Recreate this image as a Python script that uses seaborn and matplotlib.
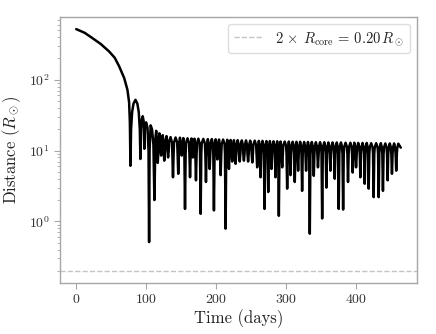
import matplotlib
matplotlib.use("Agg")
import matplotlib.pyplot as plt
import seaborn as sns
import pandas as pd

# ---- data ----
# initial plunge and first few wide orbits
early_time = [
    0, 12, 23.3, 35, 47, 55, 61.4, 68.6, 73.3, 75.7, 76.8, 77.6,
    78.5, 80, 82, 84.8, 87.5, 89.5, 91, 91.9,
    92.7, 94, 95.2, 96.5, 97.5,
    98.3, 100, 102, 103.5, 104.3,
    105, 106.5, 108.5, 110.5, 111.9,
    113.4, 114.5,
]
early_distance = [
    518, 460, 386, 320, 251, 205, 155, 106, 72, 48, 25, 6.1,
    20, 35, 46, 52, 46, 35, 20, 7.6,
    20, 28, 30.5, 26, 10.6,
    20, 25, 21, 10, 0.51,
    10, 22.7, 20, 12, 2.0,
    15, 19,
]
# settled orbits, six readings per orbit:
# upper shoulder, lower shoulder, pericentre, lower shoulder, upper shoulder, apocentre
orbit_time = [
    115.2, 115.8, 116.7, 117.6, 118.2, 119.1,
    120.0, 120.6, 121.5, 122.4, 123.0, 123.8,
    124.5, 125.1, 126.0, 126.9, 127.5, 129.2,
    130.0, 130.6, 131.5, 132.4, 133.0, 135.0,
    137.0, 137.6, 138.5, 139.4, 140.0, 142.2,
    144.5, 145.1, 146.0, 146.9, 147.5, 148.5,
    149.5, 150.1, 151.0, 151.9, 152.5, 153.3,
    154.2, 154.8, 155.7, 156.6, 157.2, 159.3,
    161.4, 162.0, 162.9, 163.8, 164.4, 165.0,
    165.5, 166.1, 167.0, 167.9, 168.5, 169.2,
    169.9, 170.5, 171.4, 172.3, 172.9, 174.8,
    176.6, 177.2, 178.1, 179.0, 179.6, 181.9,
    184.2, 184.8, 185.7, 186.6, 187.2, 188.4,
    189.5, 190.1, 191.0, 191.9, 192.5, 194.1,
    195.6, 196.2, 197.1, 198.0, 198.6, 199.6,
    200.5, 201.1, 202.0, 202.9, 203.5, 204.4,
    205.2, 205.8, 206.7, 207.6, 208.2, 210.3,
    212.3, 212.9, 213.8, 214.7, 215.3, 216.2,
    217.1, 217.7, 218.6, 219.5, 220.1, 221.0,
    221.8, 222.4, 223.3, 224.2, 224.8, 225.7,
    226.6, 227.2, 228.1, 229.0, 229.6, 231.1,
    232.5, 233.1, 234.0, 234.9, 235.5, 237.0,
    238.5, 239.1, 240.0, 240.9, 241.5, 243.0,
    244.5, 245.1, 246.0, 246.9, 247.5, 249.0,
    250.5, 251.1, 252.0, 252.9, 253.5, 255.5,
    257.5, 258.1, 259.0, 259.9, 260.5, 261.4,
    262.3, 262.9, 263.8, 264.7, 265.3, 266.6,
    268.0, 268.6, 269.5, 270.4, 271.0, 272.2,
    273.3, 273.9, 274.8, 275.7, 276.3, 277.2,
    278.0, 278.6, 279.5, 280.4, 281.0, 282.4,
    283.7, 284.3, 285.2, 286.1, 286.7, 287.6,
    288.5, 289.1, 290.0, 290.9, 291.5, 292.4,
    293.3, 293.9, 294.8, 295.7, 296.3, 298.4,
    300.4, 301.0, 301.9, 302.8, 303.4, 304.3,
    305.2, 305.8, 306.7, 307.6, 308.2, 309.8,
    311.3, 311.9, 312.8, 313.7, 314.3, 315.2,
    316.1, 316.7, 317.6, 318.5, 319.1, 320.5,
    321.8, 322.4, 323.3, 324.2, 324.8, 326.2,
    327.5, 328.1, 329.0, 329.9, 330.5, 331.7,
    332.8, 333.4, 334.3, 335.2, 335.8, 337.2,
    338.5, 339.1, 340.0, 340.9, 341.5, 343.0,
    344.5, 345.1, 346.0, 346.9, 347.5, 349.0,
    350.5, 351.1, 352.0, 352.9, 353.5, 355.0,
    356.5, 357.1, 358.0, 358.9, 359.5, 360.9,
    362.3, 362.9, 363.8, 364.7, 365.3, 366.9,
    368.5, 369.1, 370.0, 370.9, 371.5, 372.9,
    374.2, 374.8, 375.7, 376.6, 377.2, 378.9,
    380.5, 381.1, 382.0, 382.9, 383.5, 385.5,
    387.5, 388.1, 389.0, 389.9, 390.5, 392.4,
    394.2, 394.8, 395.7, 396.6, 397.2, 398.1,
    399.0, 399.6, 400.5, 401.4, 402.0, 403.6,
    405.2, 405.8, 406.7, 407.6, 408.2, 409.8,
    411.4, 412.0, 412.9, 413.8, 414.4, 415.8,
    417.1, 417.7, 418.6, 419.5, 420.1, 422.2,
    424.2, 424.8, 425.7, 426.6, 427.2, 429.3,
    431.4, 432.0, 432.9, 433.8, 434.4, 436.0,
    437.5, 438.1, 439.0, 439.9, 440.5, 442.4,
    444.2, 444.8, 445.7, 446.6, 447.2, 448.8,
    450.4, 451.0, 451.9, 452.8, 453.4, 455.0,
    456.5, 457.1, 458.0, 458.9, 459.5, 461.0,
    464.5,
]
orbit_distance = [
    14.5, 10, 6.7, 10, 14.5, 17.5,
    14, 10.5, 8.5, 10.5, 14, 16.5,
    13.5, 10, 7.2, 10, 13.5, 16,
    13.5, 10, 8.0, 10, 13.5, 15.5,
    13, 9, 4.2, 9, 13, 15.3,
    13, 9, 4.7, 9, 13, 15.2,
    13, 10, 8.5, 10, 13, 15,
    12.8, 9, 1.5, 9, 12.8, 14.9,
    12.8, 9, 4.2, 9, 12.8, 14.8,
    12.7, 10, 8.0, 10, 12.7, 14.7,
    12.7, 9, 3.8, 9, 12.7, 14.7,
    12.6, 9, 1.28, 9, 12.6, 14.6,
    12.5, 9, 3.6, 9, 12.5, 14.5,
    12.5, 9, 5.5, 9, 12.5, 14.5,
    12.4, 9, 1.43, 9, 12.4, 14.4,
    12.4, 9.5, 7.5, 9.5, 12.4, 14.3,
    12.3, 9, 4.5, 9, 12.3, 14.3,
    12.3, 9, 0.79, 9, 12.3, 14.2,
    12.2, 9, 5.5, 9, 12.2, 14.1,
    12.2, 9, 7.0, 9, 12.2, 14.0,
    12.1, 9, 6.5, 9, 12.1, 14.0,
    12.1, 9, 7.0, 9, 12.1, 13.9,
    12.0, 9, 7.2, 9, 12.0, 13.9,
    12.0, 9, 7.0, 9, 12.0, 13.8,
    12.0, 9, 6.8, 9, 12.0, 13.8,
    11.9, 9, 5.8, 9, 11.9, 13.7,
    11.9, 9, 4.2, 9, 11.9, 13.7,
    11.8, 9, 1.5, 9, 11.8, 13.6,
    11.8, 9, 2.6, 9, 11.8, 13.6,
    11.8, 9, 5.5, 9, 11.8, 13.5,
    11.7, 9, 4.2, 9, 11.7, 13.5,
    11.7, 9, 1.2, 9, 11.7, 13.4,
    11.7, 9, 5.8, 9, 11.7, 13.4,
    11.6, 9, 2.9, 9, 11.6, 13.4,
    11.6, 9, 4.5, 9, 11.6, 13.3,
    11.6, 9, 3.6, 9, 11.6, 13.3,
    11.5, 9, 5.2, 9, 11.5, 13.3,
    11.5, 9, 2.7, 9, 11.5, 13.2,
    11.5, 9, 5.2, 9, 11.5, 13.2,
    11.5, 9, 0.67, 9, 11.5, 13.2,
    11.4, 9, 4.4, 9, 11.4, 13.1,
    11.4, 9, 5.8, 9, 11.4, 13.1,
    11.4, 9, 1.1, 9, 11.4, 13.1,
    11.3, 9, 3.0, 9, 11.3, 13.0,
    11.3, 9, 5.2, 9, 11.3, 13.0,
    11.3, 9, 4.0, 9, 11.3, 13.0,
    11.3, 9, 1.5, 9, 11.3, 13.0,
    11.2, 9, 1.47, 9, 11.2, 12.9,
    11.2, 9, 3.6, 9, 11.2, 12.9,
    11.2, 9, 4.9, 9, 11.2, 12.9,
    11.2, 9, 5.8, 9, 11.2, 12.8,
    11.1, 9, 4.2, 9, 11.1, 12.8,
    11.1, 9, 3.4, 9, 11.1, 12.8,
    11.1, 9, 2.9, 9, 11.1, 12.7,
    11.0, 9, 2.2, 9, 11.0, 12.7,
    11.0, 9, 2.2, 9, 11.0, 12.7,
    11.0, 9, 2.7, 9, 11.0, 12.6,
    11.0, 9, 3.8, 9, 11.0, 12.6,
    11.0, 9, 4.7, 9, 11.0, 12.6,
    10.9, 9, 5.2, 9, 10.9, 12.5,
    11.0,
]
core_line_value = 0.20
legend_label = r"$2\,\times\,R_{\rm core}\,=\,0.20\,R_\odot$"
x_label = "Time (days)"
y_label = r"Distance ($R_\odot$)"
x_ticks = [0, 100, 200, 300, 400]

# ---- style ----
sns.set_style("ticks")
plt.rcParams["font.family"] = ["cmr10", "DejaVu Serif"]
plt.rcParams["mathtext.fontset"] = "cm"
plt.rcParams["axes.formatter.use_mathtext"] = True

df = pd.DataFrame({
    "time": early_time + orbit_time,
    "distance": early_distance + orbit_distance,
})

fig = plt.figure(figsize=(4.36, 3.34), dpi=100)
ax = fig.add_axes([0.1376, 0.1527, 0.8188, 0.7963])

sns.lineplot(data=df, x="time", y="distance", color="black", lw=1.8,
             estimator=None, sort=False, ax=ax)
ax.axhline(core_line_value, color="#c4c4c4", ls="--", lw=1.0, label=legend_label)
ax.set_yscale("log")

ax.set_xticks(x_ticks)
ax.set_xlabel(x_label, fontsize=12, color="#222222", labelpad=2)
ax.set_ylabel(y_label, fontsize=12, color="#222222", labelpad=4)

spine_col = "#a6a6a6"
for s in ax.spines.values():
    s.set_color(spine_col)
    s.set_linewidth(1.0)
ax.tick_params(axis="both", which="major", colors=spine_col, labelcolor="#333333",
               labelsize=10, length=4, width=0.8)
ax.tick_params(axis="y", which="minor", colors=spine_col, length=2, width=0.6)

leg = ax.legend(loc="upper right", fontsize=10.5, frameon=True, fancybox=True,
                edgecolor="#dddddd", framealpha=1.0)
for t in leg.get_texts():
    t.set_color("#222222")

fig.savefig("out.png", dpi=100)
